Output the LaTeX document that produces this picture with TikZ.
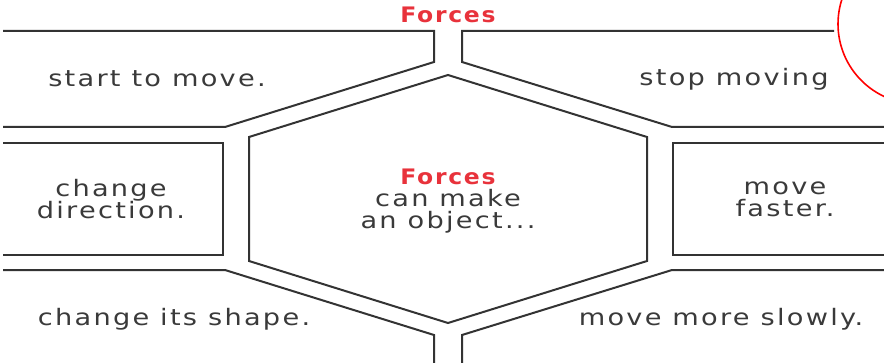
\documentclass[tikz,border=0pt]{standalone}
\usepackage{fontspec}
\setmainfont{DejaVu Sans}[FakeStretch=1.2, LetterSpace=10]
\newfontfamily\headfont{DejaVu Sans}[FakeStretch=1.1, LetterSpace=8]
\usepackage{xcolor}
\definecolor{sheetink}{HTML}{333333}
\definecolor{sheettext}{HTML}{3A3A3A}
\definecolor{sheetred}{HTML}{E8323B}
\lineskiplimit=-6pt

\begin{document}
\begin{tikzpicture}[
  x=0.75pt,
  y=-0.75pt,
  every node/.style={font=\fontsize{17}{16.5}\selectfont, sheettext, inner sep=0pt},
  frame/.style={sheetink, line width=1.5pt, line join=miter},
  title/.style={sheetred, font=\fontsize{16}{16.5}\selectfont\headfont\bfseries},
  block/.style={align=center},
  marker/.style={red, line width=1.2pt}
]
  % ---- page size, same as the worksheet scan ----
  \useasboundingbox (0,0) rectangle (884,363);

  % ---- top band ----
  \draw[frame] (3,31) -- (434,31) -- (434,62) -- (225,127) -- (3,127);
  \draw[frame] (834,31) -- (462,31) -- (462,62) -- (672,127) -- (884,127);

  % ---- centre hexagon ----
  \draw[frame] (448,75) -- (647,137) -- (647,261) -- (448,323)
    -- (249,261) -- (249,137) -- cycle;

  % ---- side boxes ----
  \draw[frame] (3,143) -- (223,143) -- (223,255) -- (3,255);
  \draw[frame] (884,143) -- (673,143) -- (673,255) -- (884,255);

  % ---- bottom band ----
  \draw[frame] (3,270) -- (225,270) -- (434,335) -- (434,363);
  \draw[frame] (884,270) -- (672,270) -- (462,335) -- (462,363);

  % ---- red ring in the corner ----
  \draw[marker] (918,24) circle[radius=80];

  % ---- labels ----
  \node[title] (heading) at (448,15) {Forces};
  \node[block] (centre) at (448,201)
    {{\fontsize{16}{16.5}\selectfont\color{sheetred}\headfont\bfseries Forces}\\can make\\an object...};
  \node (start) at (157,79) {start to move.};
  \node (stop) at (734,79) {stop moving};
  \node[block] (direction) at (111,199) {change\\direction.};
  \node[block] (faster) at (785,199) {move\\faster.};
  \node (shape) at (174,319) {change its shape.};
  \node (slowly) at (721,319) {move more slowly.};
\end{tikzpicture}
\end{document}
